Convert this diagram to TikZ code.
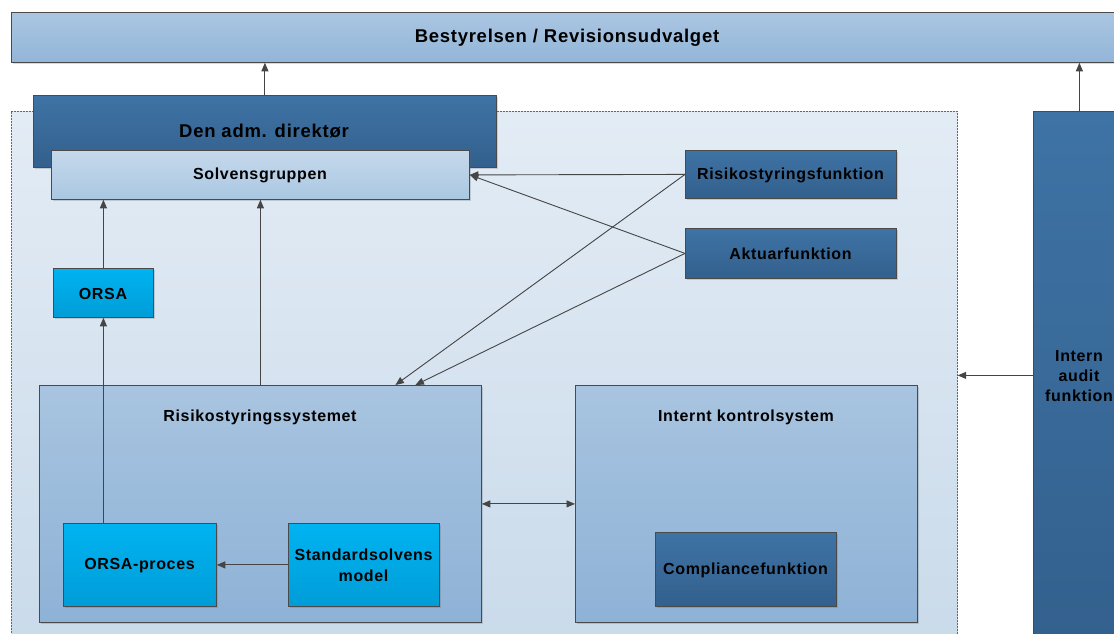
\documentclass[tikz,border=0pt]{standalone}
\usepackage{fontspec}
\setmainfont{Liberation Sans}[LetterSpace=4]
\usetikzlibrary{arrows.meta,shadows}
\definecolor{bord}{HTML}{4A4A4A}
\definecolor{lnc}{HTML}{454545}
\definecolor{ltA}{HTML}{AAC6E2}
\definecolor{ltB}{HTML}{93B5D8}
\definecolor{slA}{HTML}{C6D8EB}
\definecolor{slB}{HTML}{A9C8E2}
\definecolor{dkA}{HTML}{3E73A5}
\definecolor{dkB}{HTML}{33608D}
\definecolor{cyA}{HTML}{00B3F1}
\definecolor{cyB}{HTML}{009DD7}
\definecolor{mdA}{HTML}{A8C4E0}
\definecolor{mdB}{HTML}{8EB2D6}
\definecolor{ctA}{HTML}{E3ECF5}
\definecolor{ctB}{HTML}{C9DAEA}
\tikzset{
  basebox/.style={draw=bord, line width=0.8pt, rectangle, inner sep=0pt, anchor=north west,
    drop shadow={shadow xshift=1.5pt, shadow yshift=-1.5pt, opacity=0.25, fill=black!60}},
  lightbox/.style={basebox, top color=ltA, bottom color=ltB},
  solvbox/.style={basebox, top color=slA, bottom color=slB},
  darkbox/.style={basebox, top color=dkA, bottom color=dkB},
  cyanbox/.style={basebox, top color=cyA, bottom color=cyB},
  midbox/.style={basebox, top color=mdA, bottom color=mdB},
  txt/.style={font=\fontsize{16}{20}\selectfont\bfseries, align=center, inner sep=0pt},
  tip/.style={Triangle[length=8.5pt,width=7pt]},
  conn/.style={draw=lnc, line width=0.9pt, -{Triangle[length=8.5pt,width=7pt]}},
}
\begin{document}
\begin{tikzpicture}[x=1pt,y=-1pt]
\useasboundingbox (0,0) rectangle (1114,633);
\clip (0,0) rectangle (1114,633);
% container
\node[draw=black!60, dashed, dash pattern=on 2pt off 1pt, line width=0.7pt, top color=ctA, bottom color=ctB,
  rectangle, inner sep=0pt, anchor=north west, minimum width=946pt, minimum height=540pt] (cont) at (11,111) {};
% top board
\node[lightbox, minimum width=1112pt, minimum height=50pt] (bst) at (11,12) {};
\node[txt, font=\fontsize{18.5}{20}\selectfont\bfseries] (bstt) at (567,38) {Bestyrelsen / Revisionsudvalget};
% direktor
\node[darkbox, minimum width=463pt, minimum height=72pt] (dir) at (33,95) {};
\node[txt, font=\fontsize{18.5}{20}\selectfont\bfseries] (dirt) at (264,131) {Den adm. direktør};
% solvensgruppen
\node[solvbox, minimum width=418pt, minimum height=49pt] (solv) at (51,150) {};
\node[txt] (solvt) at (260,175) {Solvensgruppen};
% functions
\node[darkbox, minimum width=211pt, minimum height=48pt] (rf) at (685,150) {};
\node[txt] (rft) at (790.5,175) {Risikostyringsfunktion};
\node[darkbox, minimum width=211pt, minimum height=50pt] (akt) at (685,228) {};
\node[txt] (aktt) at (790.5,254) {Aktuarfunktion};
% ORSA
\node[cyanbox, minimum width=100pt, minimum height=49pt] (orsa) at (53,268) {};
\node[txt] (orsat) at (103,294) {ORSA};
% systems
\node[midbox, minimum width=442pt, minimum height=237pt] (rss) at (39,385) {};
\node[txt] (rsst) at (260,417) {Risikostyringssystemet};
\node[midbox, minimum width=342pt, minimum height=237pt] (iks) at (575,385) {};
\node[txt] (ikst) at (746,417) {Internt kontrolsystem};
\node[cyanbox, minimum width=153pt, minimum height=83pt] (orsap) at (63,523) {};
\node[txt] (orsapt) at (139.5,566) {ORSA-proces};
\node[cyanbox, minimum width=151pt, minimum height=83pt] (std) at (288,523) {};
\node[txt, font=\fontsize{16}{21}\selectfont\bfseries] (stdt) at (363.5,565) {Standardsolvens\\model};
\node[darkbox, minimum width=181pt, minimum height=74pt] (comp) at (655,532) {};
\node[txt] (compt) at (745.5,570) {Compliancefunktion};
% intern audit
\node[darkbox, minimum width=92pt, minimum height=540pt] (ia) at (1033,111) {};
\node[txt, font=\fontsize{16}{20}\selectfont\bfseries] (iat) at (1079,376) {Intern\\audit\\funktion};
% connectors
\draw[conn] (dir.north) -- (dir.north |- bst.south);
\draw[conn] (ia.north) -- (ia.north |- bst.south);
\coordinate (iaw) at ([yshift=6pt]ia.west);
\draw[conn] (iaw) -- (iaw -| cont.east);
\draw[conn] (orsa.north) -- (orsa.north |- solv.south);
\draw[conn] (orsa.south |- orsap.north) -- (orsa.south);
\draw[conn] (rss.north) -- (rss.north |- solv.south);
\draw[conn] (std.west) -- (orsap.east);
\draw[conn, {Triangle[length=8.5pt,width=7pt]}-{Triangle[length=8.5pt,width=7pt]}] (rss.east) -- (iks.west);
\draw[conn] (rf.west) -- (solv.east);
\draw[conn] (akt.west) -- (solv.east);
\draw[conn] (rf.west) -- ([xshift=135pt]rss.north);
\draw[conn] (akt.west) -- ([xshift=155pt]rss.north);
\end{tikzpicture}
\end{document}
